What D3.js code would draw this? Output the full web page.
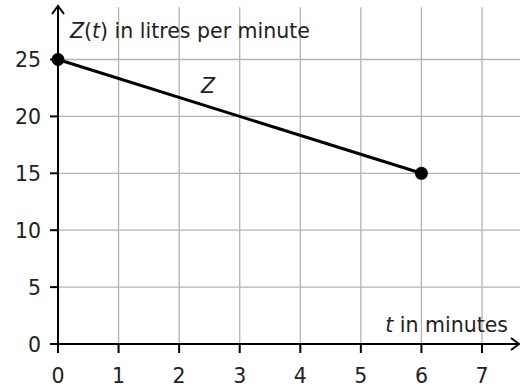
<!DOCTYPE html>
<html>
<head>
<meta charset="utf-8">
<script src="https://cdn.jsdelivr.net/npm/d3@7"></script>
<style>
  body { margin: 0; background: #fff; }
  svg text { font-family: 'DejaVu Sans', sans-serif; fill: #222; }
</style>
</head>
<body>
<div id="chart"></div>
<script>
// Z(t) – straight line from (0,25) to (6,15)
const tValues = [0, 6]
const zValues = [25, 15]
const xTicks = [0, 1, 2, 3, 4, 5, 6, 7]
const yTicks = [0, 5, 10, 15, 20, 25]

const width = 520, height = 387
const fs = 20.5

const x = d3.scaleLinear().domain([0, 7]).range([58, 482])
const y = d3.scaleLinear().domain([0, 25]).range([344, 59.5])

const svg = d3.select('#chart')
    .append('svg')
    .attr('width', width)
    .attr('height', height)

// grid
const grid = svg.append('g')
    .attr('stroke', '#b3b3b3')
    .attr('stroke-width', 1.3)

grid.selectAll('line.v')
    .data(xTicks.filter(d => d > 0))
    .enter()
    .append('line')
    .attr('x1', d => x(d)).attr('x2', d => x(d))
    .attr('y1', y(29.6)).attr('y2', y(0))

grid.selectAll('line.h')
    .data(yTicks.filter(d => d > 0))
    .enter()
    .append('line')
    .attr('x1', x(0)).attr('x2', width)
    .attr('y1', d => y(d)).attr('y2', d => y(d))

// axes
const ax = svg.append('g')
    .attr('stroke', '#000')
    .attr('stroke-width', 2)
    .attr('fill', 'none')

ax.append('line')
    .attr('x1', x(0)).attr('x2', 519)
    .attr('y1', y(0)).attr('y2', y(0))
ax.append('line')
    .attr('x1', x(0)).attr('x2', x(0))
    .attr('y1', y(0)).attr('y2', 6)

// arrow heads
ax.append('path')
    .attr('d', 'M' + (x(0) - 6) + ',14 L' + x(0) + ',6 L' + (x(0) + 6) + ',14')
ax.append('path')
    .attr('d', 'M511,' + (y(0) - 6) + ' L519,' + y(0) + ' L511,' + (y(0) + 6))

// ticks
ax.selectAll('line.xt')
    .data(xTicks)
    .enter()
    .append('line')
    .attr('x1', d => x(d)).attr('x2', d => x(d))
    .attr('y1', y(0)).attr('y2', y(0) + 9)

ax.selectAll('line.yt')
    .data(yTicks)
    .enter()
    .append('line')
    .attr('x1', x(0) - 8).attr('x2', x(0))
    .attr('y1', d => y(d)).attr('y2', d => y(d))

// tick labels
svg.selectAll('text.xl')
    .data(xTicks)
    .enter()
    .append('text')
    .attr('x', d => x(d))
    .attr('y', 383)
    .attr('text-anchor', 'middle')
    .attr('font-size', fs)
    .text(d => d)

svg.selectAll('text.yl')
    .data(yTicks)
    .enter()
    .append('text')
    .attr('x', 41)
    .attr('y', d => y(d) + 7.5)
    .attr('text-anchor', 'end')
    .attr('font-size', fs)
    .text(d => d)

// the line Z
svg.append('line')
    .attr('x1', x(tValues[0])).attr('y1', y(zValues[0]))
    .attr('x2', x(tValues[1])).attr('y2', y(zValues[1]))
    .attr('stroke', '#000')
    .attr('stroke-width', 3)

svg.selectAll('circle')
    .data(tValues)
    .enter()
    .append('circle')
    .attr('cx', d => x(d))
    .attr('cy', (d, i) => y(zValues[i]))
    .attr('r', 6.5)
    .attr('fill', '#000')

// labels
const yLab = svg.append('text')
    .attr('x', 70)
    .attr('y', 38)
    .attr('font-size', fs)
yLab.append('tspan').attr('font-style', 'italic').text('Z')
yLab.append('tspan').text('(')
yLab.append('tspan').attr('font-style', 'italic').text('t')
yLab.append('tspan').text(') in litres per minute')

const xLab = svg.append('text')
    .attr('x', 508)
    .attr('y', 332)
    .attr('text-anchor', 'end')
    .attr('font-size', fs)
xLab.append('tspan').attr('font-style', 'italic').text('t')
xLab.append('tspan').text(' in minutes')

svg.append('text')
    .attr('x', 208)
    .attr('y', 93)
    .attr('text-anchor', 'middle')
    .attr('font-size', fs)
    .attr('font-style', 'italic')
    .text('Z')
</script>
</body>
</html>
